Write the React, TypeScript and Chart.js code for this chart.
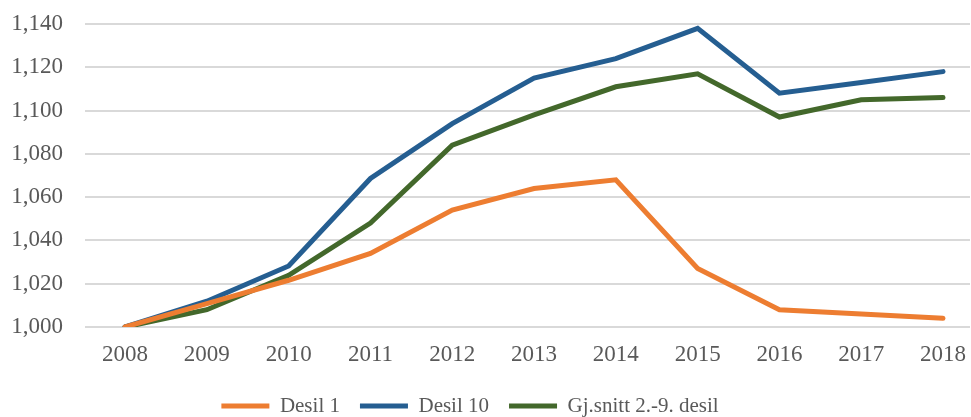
import React, { useEffect, useRef } from "react";
import { Chart, registerables } from "chart.js";

Chart.register(...registerables);

const years = [2008, 2009, 2010, 2011, 2012, 2013, 2014, 2015, 2016, 2017, 2018];
const desil1 = [1.0, 1.0108, 1.0216, 1.034, 1.054, 1.064, 1.068, 1.027, 1.008, 1.006, 1.004];
const desil10 = [1.0, 1.0119, 1.0282, 1.0686, 1.094, 1.115, 1.124, 1.138, 1.108, 1.113, 1.118];
const gjsnitt = [1.0, 1.008, 1.0239, 1.048, 1.084, 1.098, 1.111, 1.117, 1.097, 1.105, 1.106];
const yTicks = [1.0, 1.02, 1.04, 1.06, 1.08, 1.1, 1.12, 1.14];

const FONT = "'Liberation Serif', 'Times New Roman', serif";
const TEXT = "#595959";
const LEGEND_PAD = 20;
const LEGEND_FONT = 21;

const placeLegend = {
  id: "placeLegend",
  afterLayout(chart: any) {
    const lg = chart.legend;
    if (!lg) return;
    const h = lg.height;
    lg.top = 406 - LEGEND_PAD - LEGEND_FONT / 2;
    lg.bottom = lg.top + h;
    lg.left = 0;
    lg.right = 940;
  },
};

export default function App() {
  const ref = useRef<HTMLCanvasElement | null>(null);
  useEffect(() => {
    if (!ref.current) return;
    const pts = (arr: number[]) => years.map((x, i) => ({ x, y: arr[i] }));
    const ds = (label: string, arr: number[], color: string) => ({
      label,
      data: pts(arr),
      borderColor: color,
      backgroundColor: color,
      borderWidth: 5,
      borderCapStyle: "round" as const,
      borderJoinStyle: "miter" as const,
      pointRadius: 0,
      tension: 0,
      fill: false,
    });
    const chart = new Chart(ref.current, {
      type: "line",
      data: {
        datasets: [
          ds("Desil 1", desil1, "#ED7D31"),
          ds("Desil 10", desil10, "#255E91"),
          ds("Gj.snitt 2.-9. desil", gjsnitt, "#43682B"),
        ],
      },
      plugins: [placeLegend],
      options: {
        animation: false,
        responsive: false,
        maintainAspectRatio: false,
        layout: { padding: { top: 24, right: 1, left: 0, bottom: 0 } },
        plugins: {
          tooltip: { enabled: false },
          legend: {
            position: "bottom",
            labels: {
              usePointStyle: true,
              pointStyle: "line",
              pointStyleWidth: 48,
              boxHeight: 20,
              padding: LEGEND_PAD,
              color: TEXT,
              font: { family: FONT, size: LEGEND_FONT },
            },
          },
        },
        scales: {
          x: {
            type: "linear",
            min: 2007.51,
            max: 2018.33,
            grid: { display: false, drawTicks: false },
            border: { display: false },
            afterBuildTicks: (axis: any) => {
              axis.ticks = years.map((v) => ({ value: v }));
            },
            afterFit: (axis: any) => {
              const lh = axis.chart.legend ? axis.chart.legend.height : 0;
              axis.height = Math.max(0, 90 - lh);
              axis.paddingLeft = 0;
              axis.paddingRight = 0;
            },
            ticks: {
              autoSkip: false,
              maxRotation: 0,
              padding: 14,
              color: TEXT,
              font: { family: FONT, size: 23 },
              callback: (v: any) => String(v),
            },
          },
          y: {
            min: 1.0,
            max: 1.14,
            grid: { color: "#d9d9d9", lineWidth: 2, drawTicks: false },
            border: { display: false },
            afterBuildTicks: (axis: any) => {
              axis.ticks = yTicks.map((v) => ({ value: v }));
            },
            afterFit: (axis: any) => {
              axis.width = 85;
              axis.paddingTop = 0;
              axis.paddingBottom = 0;
            },
            ticks: {
              padding: 22,
              color: TEXT,
              font: { family: FONT, size: 23 },
              callback: (v: any) => Number(v).toFixed(3).replace(".", ","),
            },
          },
        },
      },
    });
    return () => chart.destroy();
  }, []);
  return (
    <div style={{ position: "fixed", left: 0, top: 0, width: 971, height: 417, background: "#fff" }}>
      <canvas ref={ref} width={971} height={417} style={{ width: 971, height: 417, display: "block" }} />
    </div>
  );
}
